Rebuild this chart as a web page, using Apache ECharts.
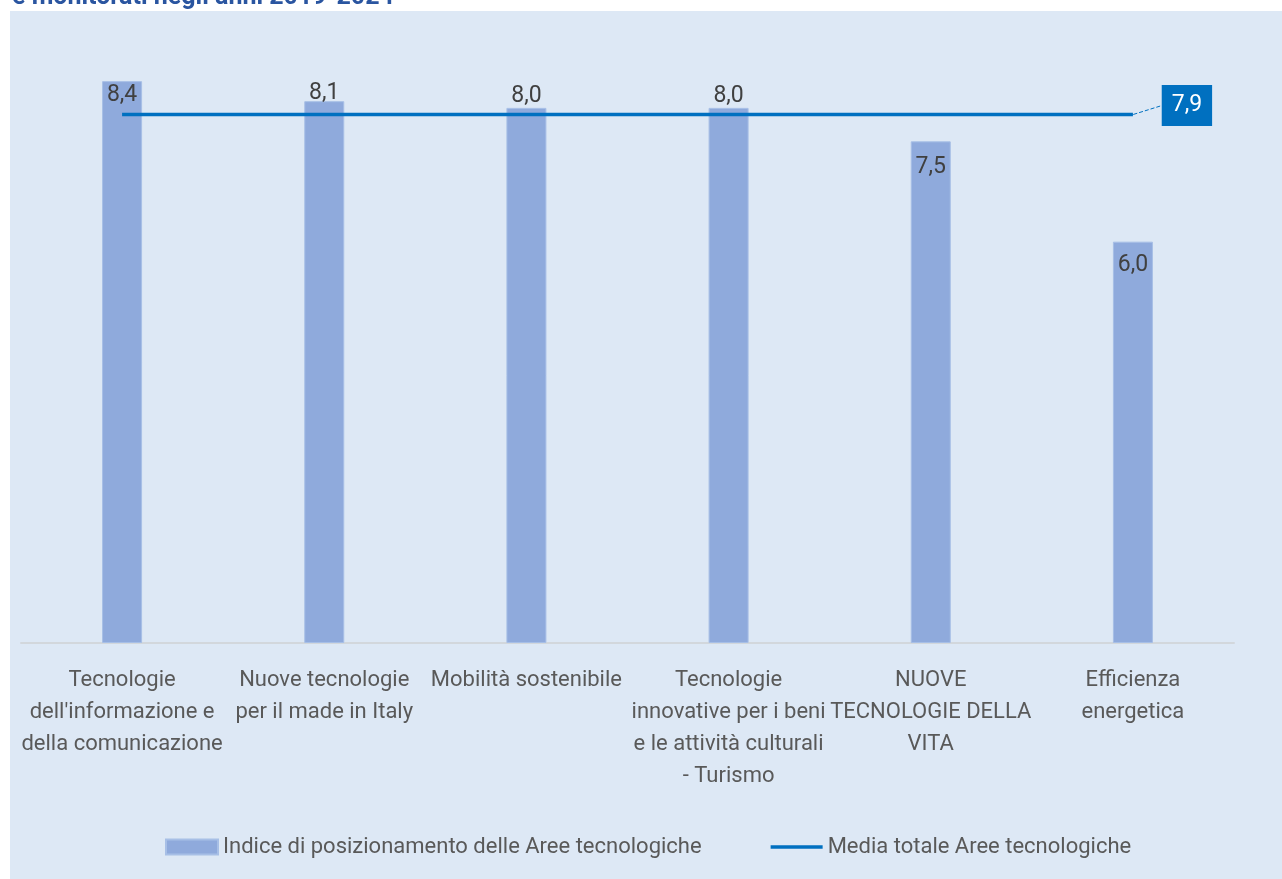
<!DOCTYPE html>
<html>
<head>
<meta charset="utf-8">
<script src="https://cdn.jsdelivr.net/npm/echarts@6/dist/echarts.min.js"></script>
<style>
html,body{margin:0;padding:0;background:#ffffff;}
#chart{width:1282px;height:879px;}
</style>
</head>
<body>
<div id="chart"></div>
<script>
const categories = [
  "Tecnologie\ndell'informazione e\ndella comunicazione",
  "Nuove tecnologie\nper il made in Italy",
  "Mobilità sostenibile",
  "Tecnologie\ninnovative per i beni\ne le attività culturali\n- Turismo",
  "NUOVE\nTECNOLOGIE DELLA\nVITA",
  "Efficienza\nenergetica"
];
const indexValues = [8.4, 8.1, 8.0, 8.0, 7.5, 6.0];
const averageValues = [7.9, 7.9, 7.9, 7.9, 7.9, 7.9];
const barSeriesName = "Indice di posizionamento delle Aree tecnologiche";
const lineSeriesName = "Media totale Aree tecnologiche";
const titleText = "e monitorati negli anni 2019-2024";

const FONT = "Roboto";
const labelPos = [
  {position: 'insideTop', distance: 3},
  {position: 'top', distance: -4},
  {position: 'top', distance: 0},
  {position: 'top', distance: 0},
  {position: 'insideTop', distance: 14},
  {position: 'insideTop', distance: 12}
];
const fmt = v => v.toFixed(1).replace('.', ',');
const lastIdx = averageValues.length - 1;

const barData = indexValues.map((v, i) => ({
  value: v,
  label: {show: true, position: labelPos[i].position, distance: labelPos[i].distance}
}));
const lineData = averageValues.map((v, i) => {
  if (i === lastIdx) {
    return {
      value: v,
      symbol: 'circle',
      symbolSize: 1,
      label: {
        show: true, position: 'inside', formatter: p => fmt(p.value),
        backgroundColor: '#0070C0', color: '#ffffff', fontFamily: FONT, fontSize: 23,
        padding: [9, 10, 9, 10]
      },
      labelLine: {show: true, lineStyle: {color: '#0070C0', type: 'dashed', width: 1}}
    };
  }
  return {value: v};
});

const chart = echarts.init(document.getElementById('chart'));
chart.setOption({
  animation: false,
  backgroundColor: '#ffffff',
  graphic: [
    {type: 'rect', z: -10, shape: {x: 10, y: 11, width: 1272, height: 868}, style: {fill: '#DDE8F5'}},
    {type: 'text', left: 12, top: -15, style: {text: titleText, fill: '#2A55A0', font: 'bold 25px ' + FONT}}
  ],
  grid: {left: 21, right: 48, top: 41, bottom: 236},
  legend: {
    bottom: 16, left: 160, itemGap: 69, itemWidth: 52, itemHeight: 15,
    textStyle: {fontFamily: FONT, fontSize: 22, color: '#595959'},
    data: [
      {name: barSeriesName, icon: 'rect'},
      {name: lineSeriesName, icon: 'path://M0,0 H52 V3.5 H0 Z'}
    ]
  },
  xAxis: {
    type: 'category', data: categories,
    axisLine: {lineStyle: {color: '#D2D7DC', width: 2}},
    axisTick: {show: false},
    axisLabel: {fontFamily: FONT, fontSize: 22, color: '#595959', lineHeight: 32, margin: 21, interval: 0}
  },
  yAxis: {type: 'value', min: 0, max: 9, show: false, splitLine: {show: false}},
  series: [
    {
      name: barSeriesName, type: 'bar', data: barData, barWidth: 40,
      itemStyle: {color: '#8FAADC', borderColor: '#A7BFE6', borderWidth: 1},
      label: {fontFamily: FONT, fontSize: 23, color: '#404040', formatter: p => fmt(p.value)}
    },
    {
      name: lineSeriesName, type: 'line', data: lineData, symbol: 'none',
      lineStyle: {color: '#0070C0', width: 3.5}, itemStyle: {color: '#0070C0'},
      labelLayout: function (params) {
        if (params.dataIndex === lastIdx) {
          return {dx: 54, dy: -9};
        }
        return {};
      },
      z: 5
    }
  ]
});
</script>
</body>
</html>
